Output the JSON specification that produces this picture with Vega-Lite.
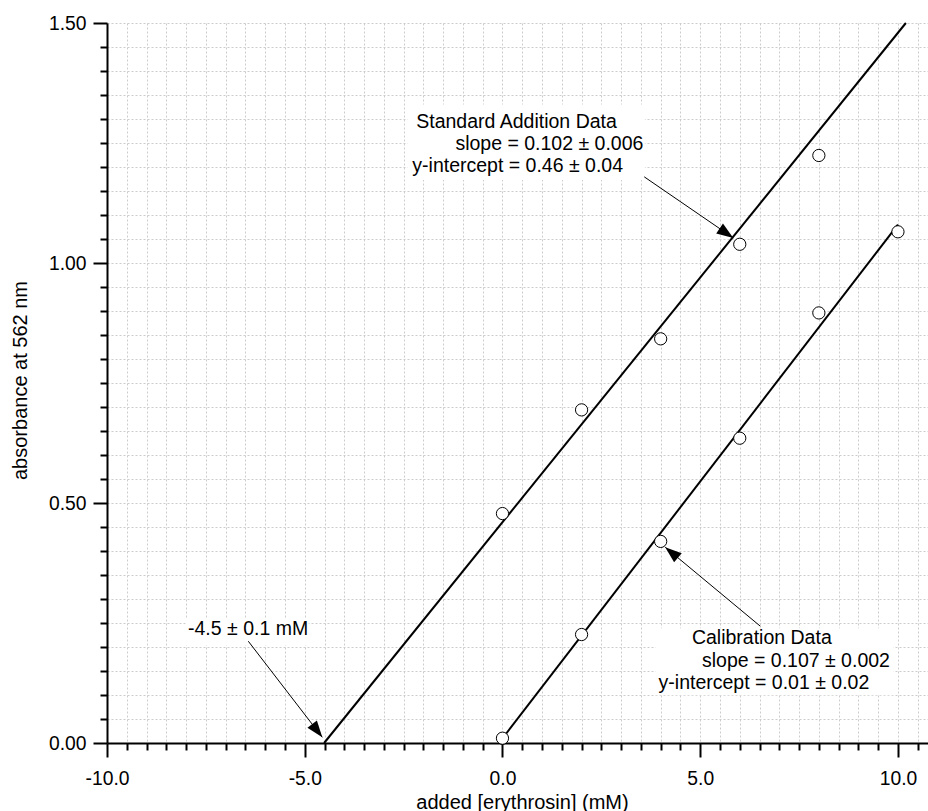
{
  "$schema": "https://vega.github.io/schema/vega-lite/v6.json",
  "width": 821,
  "height": 720,
  "autosize": {"type": "none"},
  "padding": {"left": 107, "top": 23, "right": 0, "bottom": 68},
  "background": "white",
  "config": {
    "view": {"stroke": null},
    "font": "Liberation Sans",
    "axis": {
      "domainColor": "black",
      "domainWidth": 2,
      "tickColor": "black",
      "tickWidth": 2,
      "gridColor": "#cccccc",
      "gridDash": [2, 2],
      "gridWidth": 1,
      "labelColor": "black",
      "titleColor": "black",
      "labelFont": "Liberation Sans",
      "titleFont": "Liberation Sans",
      "labelFontSize": 19.3,
      "titleFontSize": 20,
      "titleFontWeight": "normal",
      "labelOverlap": false,
      "labelFlush": false,
      "tickCount": 200
    }
  },
  "datasets": {
    "boxes": [
      {"x1": -2.4, "x2": 3.6, "y1": 1.173, "y2": 1.33},
      {"x1": 3.87, "x2": 9.89, "y1": 0.0995, "y2": 0.239},
      {"x1": -8.01, "x2": -4.9, "y1": 0.2036, "y2": 0.259}
    ],
    "fits": [
      {"series": "standard addition", "x": -4.51, "y": 0},
      {"series": "standard addition", "x": 10.2, "y": 1.5},
      {"series": "calibration", "x": -0.09, "y": 0},
      {"series": "calibration", "x": 10.0, "y": 1.08}
    ],
    "points": [
      {"series": "standard addition", "x": 0, "y": 0.478},
      {"series": "standard addition", "x": 2, "y": 0.694},
      {"series": "standard addition", "x": 4, "y": 0.842},
      {"series": "standard addition", "x": 6, "y": 1.039},
      {"series": "standard addition", "x": 8, "y": 1.224},
      {"series": "calibration", "x": 0, "y": 0.01},
      {"series": "calibration", "x": 2, "y": 0.226},
      {"series": "calibration", "x": 4, "y": 0.42},
      {"series": "calibration", "x": 6, "y": 0.635},
      {"series": "calibration", "x": 8, "y": 0.896},
      {"series": "calibration", "x": 10, "y": 1.065}
    ],
    "arrows": [
      {"id": "std", "x": 3.585, "y": 1.1795, "x2": 5.836, "y2": 1.0523},
      {"id": "xint", "x": -6.427, "y": 0.212, "x2": -4.556, "y2": 0.0119},
      {"id": "cal", "x": 6.52, "y": 0.2433, "x2": 4.114, "y2": 0.408}
    ],
    "labels": [
      {"label": "Standard Addition Data", "x": -2.18, "y": 1.281},
      {"label": "slope = 0.102 ± 0.006", "x": -1.19, "y": 1.2358},
      {"label": "y-intercept = 0.46 ± 0.04", "x": -2.28, "y": 1.19},
      {"label": "-4.5 ± 0.1 mM", "x": -7.952, "y": 0.2246},
      {"label": "Calibration Data", "x": 4.79, "y": 0.2058},
      {"label": "slope = 0.107 ± 0.002", "x": 5.044, "y": 0.1585},
      {"label": "y-intercept = 0.01 ± 0.02", "x": 3.947, "y": 0.1134}
    ]
  },
  "layer": [
    {
      "data": {"name": "boxes"},
      "mark": {"type": "rect", "fill": "white", "stroke": null},
      "encoding": {
        "x": {
          "field": "x1", "type": "quantitative",
          "scale": {"domain": [-10, 10.76], "nice": false, "zero": false},
          "axis": {
            "title": "added [erythrosin] (mM)",
            "values": [-10, -9.5, -9, -8.5, -8, -7.5, -7, -6.5, -6, -5.5, -5, -4.5, -4, -3.5, -3, -2.5, -2, -1.5, -1, -0.5, 0, 0.5, 1, 1.5, 2, 2.5, 3, 3.5, 4, 4.5, 5, 5.5, 6, 6.5, 7, 7.5, 8, 8.5, 9, 9.5, 10, 10.5],
            "tickCount": 200,
            "labelExpr": "datum.value % 5 === 0 ? (datum.value < 0 ? '-' + format(abs(datum.value), '.1f') : format(datum.value, '.1f')) : ''",
            "tickSize": {"condition": {"test": "abs(datum.value % 5) < 0.000001", "value": 14}, "value": 7},
            "labelPadding": 12,
            "titleBaseline": "alphabetic",
            "titleX": 415,
            "titleY": 65
          }
        },
        "x2": {"field": "x2"},
        "y": {
          "field": "y1", "type": "quantitative",
          "scale": {"domain": [0, 1.5], "nice": false, "zero": false},
          "axis": {
            "title": "absorbance at 562 nm",
            "values": [0, 0.05, 0.1, 0.15, 0.2, 0.25, 0.3, 0.35, 0.4, 0.45, 0.5, 0.55, 0.6, 0.65, 0.7, 0.75, 0.8, 0.85, 0.9, 0.95, 1.0, 1.05, 1.1, 1.15, 1.2, 1.25, 1.3, 1.35, 1.4, 1.45, 1.5],
            "tickCount": 200,
            "labelExpr": "abs(datum.value * 2 - round(datum.value * 2)) < 0.000001 ? format(datum.value, '.2f') : ''",
            "tickSize": {"condition": {"test": "abs(datum.value * 2 - round(datum.value * 2)) < 0.000001", "value": 14}, "value": 7},
            "labelPadding": 7,
            "titleBaseline": "alphabetic",
            "titleAngle": -90,
            "titleX": -81,
            "titleY": 357
          }
        },
        "y2": {"field": "y2"}
      }
    },
    {
      "mark": {"type": "rule", "color": "black", "strokeWidth": 2},
      "encoding": {"y": {"datum": 1.5}}
    },
    {
      "data": {"name": "fits"},
      "mark": {"type": "line", "color": "black", "strokeWidth": 2},
      "encoding": {
        "x": {"field": "x", "type": "quantitative"},
        "y": {"field": "y", "type": "quantitative"},
        "detail": {"field": "series"}
      }
    },
    {
      "data": {"name": "arrows"},
      "mark": {"type": "rule", "color": "black", "strokeWidth": 1},
      "encoding": {
        "x": {"field": "x", "type": "quantitative"},
        "y": {"field": "y", "type": "quantitative"},
        "x2": {"field": "x2"},
        "y2": {"field": "y2"}
      }
    },
    {
      "data": {"name": "arrows"},
      "transform": [{"filter": "datum.id === 'std'"}],
      "mark": {"type": "point", "shape": "M0,0L-0.36,1L0.36,1Z", "size": 1100, "filled": true, "color": "black", "opacity": 1, "angle": 124.4},
      "encoding": {
        "x": {"field": "x2", "type": "quantitative"},
        "y": {"field": "y2", "type": "quantitative"}
      }
    },
    {
      "data": {"name": "arrows"},
      "transform": [{"filter": "datum.id === 'xint'"}],
      "mark": {"type": "point", "shape": "M0,0L-0.36,1L0.36,1Z", "size": 1100, "filled": true, "color": "black", "opacity": 1, "angle": 142.4},
      "encoding": {
        "x": {"field": "x2", "type": "quantitative"},
        "y": {"field": "y2", "type": "quantitative"}
      }
    },
    {
      "data": {"name": "arrows"},
      "transform": [{"filter": "datum.id === 'cal'"}],
      "mark": {"type": "point", "shape": "M0,0L-0.36,1L0.36,1Z", "size": 1100, "filled": true, "color": "black", "opacity": 1, "angle": 309.7},
      "encoding": {
        "x": {"field": "x2", "type": "quantitative"},
        "y": {"field": "y2", "type": "quantitative"}
      }
    },
    {
      "data": {"name": "points"},
      "mark": {"type": "point", "shape": "circle", "size": 150, "filled": false, "fill": "white", "fillOpacity": 1, "stroke": "black", "strokeWidth": 1, "opacity": 1},
      "encoding": {
        "x": {"field": "x", "type": "quantitative"},
        "y": {"field": "y", "type": "quantitative"}
      }
    },
    {
      "data": {"name": "labels"},
      "mark": {"type": "text", "align": "left", "baseline": "alphabetic", "font": "Liberation Sans", "fontSize": 19.5, "color": "black"},
      "encoding": {
        "x": {"field": "x", "type": "quantitative"},
        "y": {"field": "y", "type": "quantitative"},
        "text": {"field": "label"}
      }
    }
  ]
}
